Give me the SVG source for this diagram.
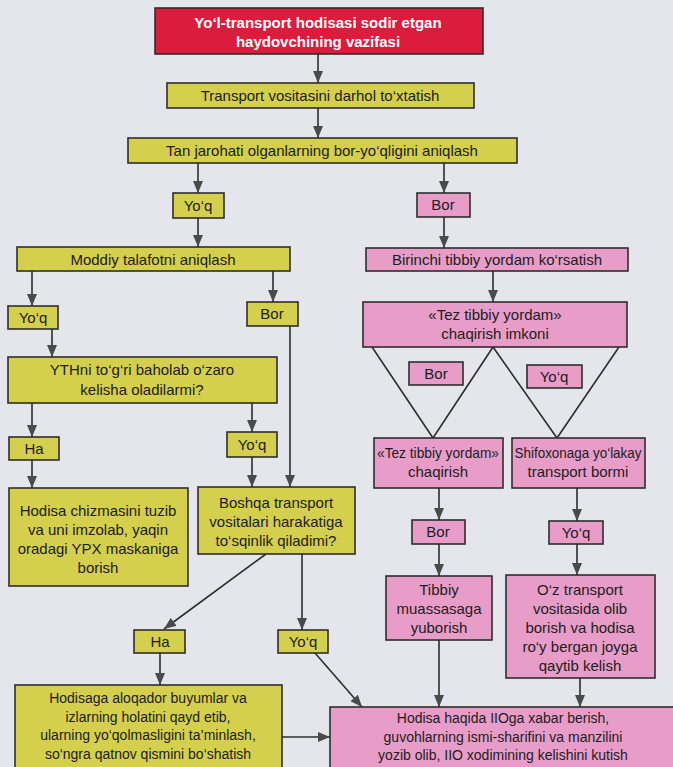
<svg xmlns="http://www.w3.org/2000/svg" width="673" height="767" viewBox="0 0 673 767">
<style>
.y{fill:#d4cf4c;stroke:#2e2e2e;stroke-width:1.6}
.p{fill:#e89dc9;stroke:#2e2e2e;stroke-width:1.6}
.r{fill:#dc1c3c;stroke:#2e2e2e;stroke-width:1.6}
text{font-family:"Liberation Sans",Arial,sans-serif;font-size:15px;fill:#1c1c1c;text-anchor:middle}
.s{font-size:14px}
.w{fill:#ffffff;font-weight:bold}
.c line,.c polyline{stroke:#2e2e2e;stroke-width:1.6;fill:none}
.c .a{marker-end:url(#ah)}
</style>
<defs>
<marker id="ah" viewBox="0 0 12 10" refX="12" refY="5" markerWidth="12" markerHeight="10" markerUnits="userSpaceOnUse" orient="auto">
<path d="M0,0 L12,5 L0,10 Z" fill="#4a4a4a"/>
</marker>
</defs>
<rect width="673" height="767" fill="#e4e6eb"/>

<g class="c" id="connectors">
<line class="a" x1="318" y1="54" x2="318" y2="83"/>
<line class="a" x1="318" y1="108" x2="318" y2="138"/>
<line class="a" x1="198" y1="163" x2="198" y2="193"/>
<line class="a" x1="444" y1="163" x2="444" y2="193"/>
<line class="a" x1="198" y1="218" x2="198" y2="247"/>
<line class="a" x1="444" y1="217" x2="444" y2="248"/>
<line class="a" x1="32" y1="271" x2="32" y2="306"/>
<line class="a" x1="273" y1="271" x2="273" y2="302"/>
<line class="a" x1="52" y1="329" x2="52" y2="357"/>
<line class="a" x1="290" y1="326" x2="290" y2="487"/>
<line class="a" x1="32" y1="403" x2="32" y2="437"/>
<line class="a" x1="252" y1="403" x2="252" y2="432"/>
<line class="a" x1="32" y1="460" x2="32" y2="488"/>
<line class="a" x1="252" y1="457" x2="252" y2="487"/>
<line class="a" x1="266" y1="554" x2="164" y2="629"/>
<line class="a" x1="302" y1="554" x2="302" y2="630"/>
<line class="a" x1="160" y1="653" x2="160" y2="685"/>
<line class="a" x1="315" y1="653" x2="362" y2="707"/>
<line class="a" x1="282" y1="737" x2="330" y2="737"/>
<line class="a" x1="493" y1="271" x2="493" y2="302"/>
<polyline points="372,347 433,438 493,347 557,438 619,347"/>
<line class="a" x1="439" y1="488" x2="439" y2="520"/>
<line class="a" x1="439" y1="544" x2="439" y2="576"/>
<line class="a" x1="577" y1="488" x2="577" y2="521"/>
<line class="a" x1="577" y1="544" x2="577" y2="575"/>
<line class="a" x1="439" y1="640" x2="439" y2="707"/>
<line class="a" x1="580" y1="678" x2="580" y2="707"/>
</g>

<g id="n_title"><rect class="r" x="155" y="8" width="328" height="46"/>
<text class="w" x="318" y="28">Yo‘l-transport hodisasi sodir etgan</text>
<text class="w" x="318" y="47">haydovchining vazifasi</text></g>

<g id="n_stop"><rect class="y" x="167" y="83" width="307" height="25"/>
<text x="320" y="101">Transport vositasini darhol to‘xtatish</text></g>

<g id="n_injury"><rect class="y" x="128" y="138" width="389" height="25"/>
<text x="322" y="156">Tan jarohati olganlarning bor-yo‘qligini aniqlash</text></g>

<g id="n_yoq1"><rect class="y" x="173" y="193" width="51" height="25"/>
<text x="198" y="211">Yo‘q</text></g>

<g id="n_bor1"><rect class="p" x="417" y="193" width="53" height="24"/>
<text x="443" y="210">Bor</text></g>

<g id="n_damage"><rect class="y" x="17" y="247" width="273" height="24"/>
<text x="153" y="265">Moddiy talafotni aniqlash</text></g>

<g id="n_firstaid"><rect class="p" x="366" y="248" width="262" height="23"/>
<text x="497" y="265">Birinchi tibbiy yordam ko‘rsatish</text></g>

<g id="n_yoq2"><rect class="y" x="8" y="306" width="50" height="23"/>
<text x="33" y="323">Yo‘q</text></g>

<g id="n_bor2"><rect class="y" x="247" y="302" width="51" height="24"/>
<text x="272" y="319">Bor</text></g>

<g id="n_ambpossible"><rect class="p" x="363" y="302" width="264" height="45"/>
<text x="495" y="320">«Tez tibbiy yordam»</text>
<text x="495" y="339">chaqirish imkoni</text></g>

<g id="n_bor3"><rect class="p" x="409" y="362" width="54" height="23"/>
<text x="436" y="379">Bor</text></g>

<g id="n_yoq3"><rect class="p" x="527" y="365" width="55" height="23"/>
<text x="554" y="382">Yo‘q</text></g>

<g id="n_agree"><rect class="y" x="8" y="357" width="269" height="46"/>
<text x="142" y="375">YTHni to‘g‘ri baholab o‘zaro</text>
<text x="142" y="395">kelisha oladilarmi?</text></g>

<g id="n_ha1"><rect class="y" x="9" y="437" width="50" height="23"/>
<text x="34" y="454">Ha</text></g>

<g id="n_yoq4"><rect class="y" x="227" y="432" width="50" height="25"/>
<text x="252" y="450">Yo‘q</text></g>

<g id="n_scheme"><rect class="y" x="9" y="488" width="179" height="98"/>
<text x="98" y="516">Hodisa chizmasini tuzib</text>
<text x="98" y="535">va uni imzolab, yaqin</text>
<text x="98" y="554">oradagi YPX maskaniga</text>
<text x="98" y="573">borish</text></g>

<g id="n_obstruct"><rect class="y" x="198" y="487" width="157" height="67"/>
<text x="276" y="508">Boshqa transport</text>
<text x="276" y="527">vositalari harakatiga</text>
<text x="276" y="546">to‘sqinlik qiladimi?</text></g>

<g id="n_callamb"><rect class="p" x="374" y="438" width="129" height="50"/>
<text x="438" y="458" textLength="122" lengthAdjust="spacingAndGlyphs">«Tez tibbiy yordam»</text>
<text x="438" y="477">chaqirish</text></g>

<g id="n_transport"><rect class="p" x="512" y="438" width="133" height="50"/>
<text x="578" y="458" textLength="127" lengthAdjust="spacingAndGlyphs">Shifoxonaga yo‘lakay</text>
<text x="578" y="477">transport bormi</text></g>

<g id="n_bor4"><rect class="p" x="412" y="520" width="53" height="24"/>
<text x="438" y="537">Bor</text></g>

<g id="n_yoq5"><rect class="p" x="549" y="521" width="54" height="23"/>
<text x="576" y="538">Yo‘q</text></g>

<g id="n_send"><rect class="p" x="386" y="576" width="106" height="64"/>
<text x="439" y="595">Tibbiy</text>
<text x="439" y="614">muassasaga</text>
<text x="439" y="633">yuborish</text></g>

<g id="n_own"><rect class="p" x="506" y="575" width="149" height="103"/>
<text x="580" y="595">O‘z transport</text>
<text x="580" y="614">vositasida olib</text>
<text x="580" y="633">borish va hodisa</text>
<text x="580" y="652">ro‘y bergan joyga</text>
<text x="580" y="671">qaytib kelish</text></g>

<g id="n_ha2"><rect class="y" x="134" y="630" width="51" height="23"/>
<text x="160" y="647">Ha</text></g>

<g id="n_yoq6"><rect class="y" x="278" y="630" width="50" height="23"/>
<text x="303" y="647">Yo‘q</text></g>

<g id="n_record"><rect class="y" x="15" y="685" width="267" height="90"/>
<text class="s" x="148" y="703">Hodisaga aloqador buyumlar va</text>
<text class="s" x="148" y="722">izlarning holatini qayd etib,</text>
<text class="s" x="148" y="740">ularning yo‘qolmasligini ta’minlash,</text>
<text class="s" x="148" y="759">so‘ngra qatnov qismini bo‘shatish</text></g>

<g id="n_report"><rect class="p" x="330" y="707" width="350" height="70"/>
<text class="s" x="503" y="723">Hodisa haqida IIOga xabar berish,</text>
<text class="s" x="503" y="742">guvohlarning ismi-sharifini va manzilini</text>
<text class="s" x="503" y="760">yozib olib, IIO xodimining kelishini kutish</text></g>
</svg>
